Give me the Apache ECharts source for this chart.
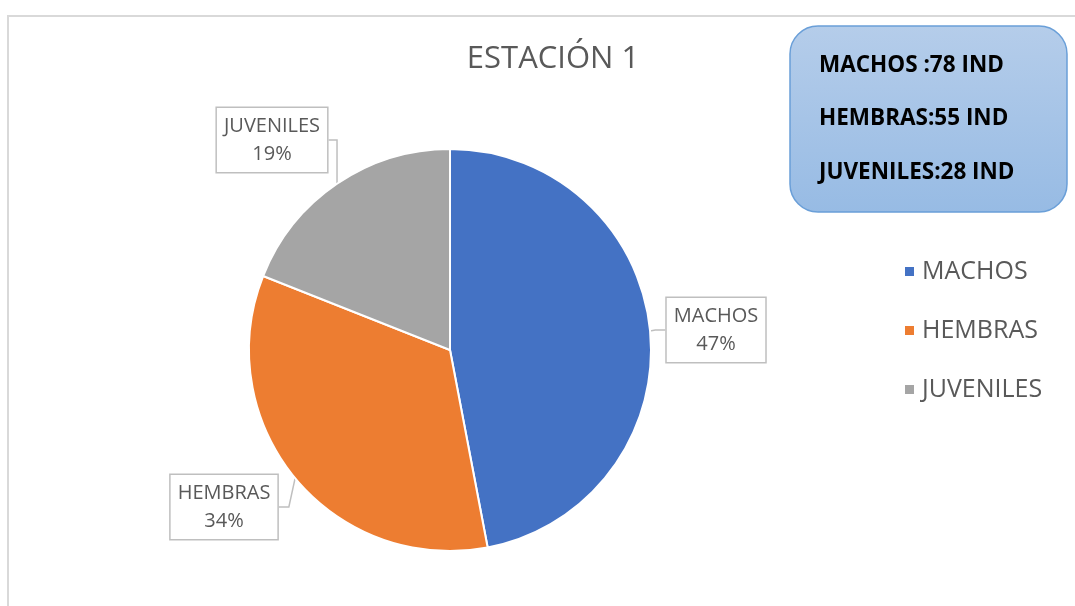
<!DOCTYPE html>
<html>
<head>
<meta charset="utf-8">
<script src="https://cdn.jsdelivr.net/npm/echarts@6/dist/echarts.min.js"></script>
<style>
  html, body { margin: 0; padding: 0; background: #fff; }
  #chart { width: 1075px; height: 606px; }
</style>
</head>
<body>
<div id="chart"></div>
<script>
// datos
const categories = ['MACHOS', 'HEMBRAS', 'JUVENILES'];
const percents = [47, 34, 19];
const counts = [78, 55, 28];
const colors = ['#4472C4', '#ED7D31', '#A5A5A5'];

// posiciones de las etiquetas (centro de cada cuadro)
const labelPos = [[716, 330], [224, 507], [272, 140]];

const font = 'Open Sans, sans-serif';

let chart = echarts.init(document.getElementById('chart'));

let boxTexts = categories.map((c, i) => c + (i === 0 ? ' :' : ':') + counts[i] + ' IND');

let option = {
  color: colors,
  animation: false,
  title: {
    text: 'ESTACIÓN 1',
    left: 548,
    top: 39,
    textAlign: 'center',
    textStyle: { fontFamily: font, fontSize: 31, fontWeight: 'normal', color: '#595959' }
  },
  legend: {
    orient: 'vertical',
    left: 898,
    top: 254,
    itemGap: 34,
    itemWidth: 11,
    itemHeight: 11,
    icon: 'rect',
    textStyle: { fontFamily: font, fontSize: 25, color: '#595959', padding: [0, 0, 0, 2] },
    data: categories
  },
  graphic: [
    {
      type: 'polyline',
      shape: { points: [[8, 606], [8, 16], [1075, 16]] },
      style: { stroke: '#d9d9d9', lineWidth: 2, fill: null },
      silent: true
    },
    {
      type: 'rect',
      shape: { x: 790, y: 26, width: 277, height: 186, r: 28 },
      style: {
        fill: new echarts.graphic.LinearGradient(0, 0, 0, 1, [
          { offset: 0, color: '#b5cdea' },
          { offset: 1, color: '#97bbe4' }
        ]),
        stroke: '#6a9fd8',
        lineWidth: 1.5
      },
      z: 10
    },
    ...boxTexts.map((t, i) => ({
      type: 'text',
      left: 819,
      top: 54 + i * 53.5,
      z: 11,
      style: { text: t, fontFamily: font, fontSize: 22.5, fontWeight: 'bold', fill: '#000' }
    }))
  ],
  series: [
    {
      type: 'pie',
      center: [450, 350],
      radius: [0, 201],
      startAngle: 90,
      clockwise: true,
      data: categories.map((c, i) => ({ name: c, value: percents[i] })),
      itemStyle: { borderColor: '#fff', borderWidth: 2 },
      label: {
        show: true,
        formatter: '{b}\n{d}%',
        fontFamily: font,
        fontSize: 20,
        lineHeight: 28,
        color: '#595959',
        align: 'center',
        backgroundColor: '#fff',
        borderColor: '#bfbfbf',
        borderWidth: 1.5,
        padding: [4, 7]
      },
      labelLine: {
        show: true,
        length: 10,
        length2: 10,
        lineStyle: { color: '#bfbfbf', width: 1.5 }
      },
      labelLayout: function (params) {
        let p = labelPos[params.dataIndex];
        return { x: p[0], y: p[1], align: 'center', verticalAlign: 'middle' };
      }
    }
  ]
};
chart.setOption(option);
</script>
</body>
</html>
